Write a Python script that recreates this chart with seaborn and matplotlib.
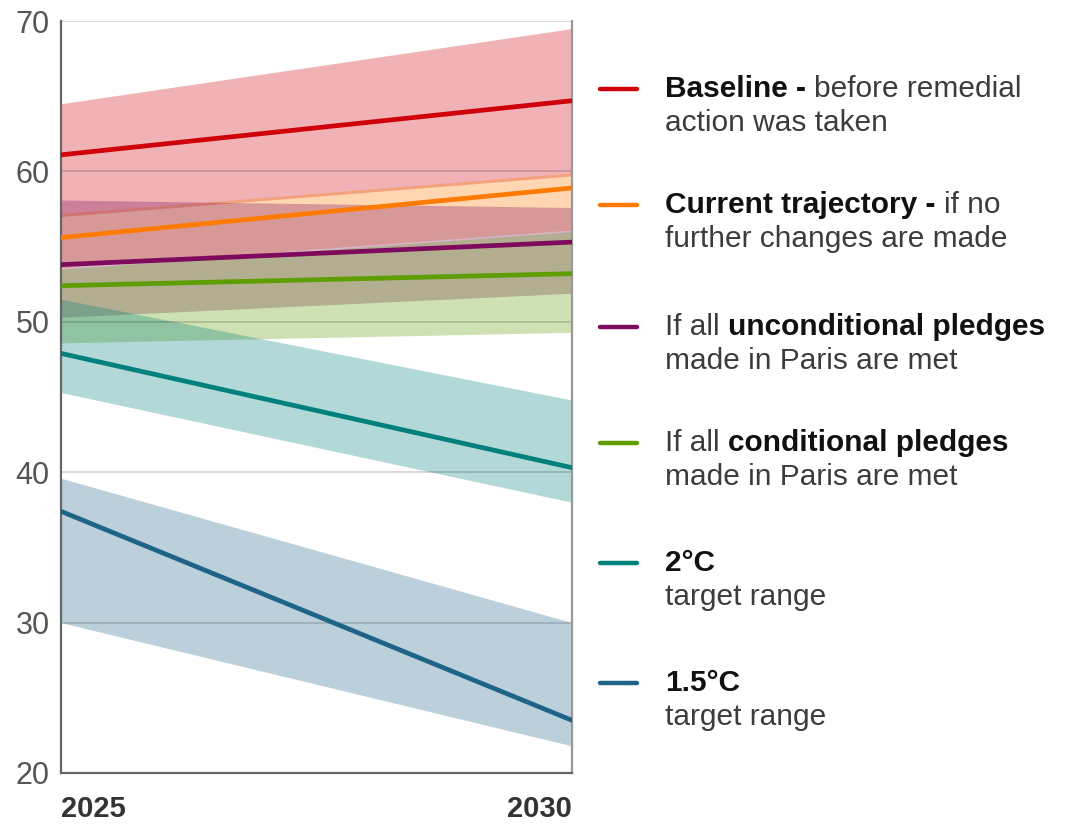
import numpy as np
import pandas as pd
import seaborn as sns
import matplotlib.pyplot as plt
from matplotlib.lines import Line2D

# Emissions pathways, start and end of the period
years = [2025, 2030]

baseline = [61.1, 64.7]
baseline_lo = [57.0, 59.7]
baseline_hi = [64.5, 69.5]

current = [55.6, 58.9]
current_lo = [53.6, 56.1]
current_hi = [57.2, 59.9]

uncond = [53.8, 55.3]
uncond_lo = [50.3, 51.9]
uncond_hi = [58.1, 57.6]

cond = [52.4, 53.2]
cond_lo = [48.6, 49.3]
cond_hi = [53.5, 56.0]

two_deg = [47.9, 40.3]
two_deg_lo = [45.3, 38.0]
two_deg_hi = [51.5, 44.8]

one_five = [37.4, 23.5]
one_five_lo = [30.0, 21.8]
one_five_hi = [39.6, 30.0]

series_names = ['Baseline', 'Current trajectory', 'Unconditional pledges',
                'Conditional pledges', '2°C', '1.5°C']
colors = ['#d0000a', '#ff7a00', '#7d0a5c', '#5e9e00', '#00807c', '#1f6488']

mids = [baseline, current, uncond, cond, two_deg, one_five]
lows = [baseline_lo, current_lo, uncond_lo, cond_lo, two_deg_lo, one_five_lo]
highs = [baseline_hi, current_hi, uncond_hi, cond_hi, two_deg_hi, one_five_hi]

# legend text: list of lines, each line a list of (text, bold)
legend_text = [
    [[('Baseline - ', True), ('before remedial', False)], [('action was taken', False)]],
    [[('Current trajectory - ', True), ('if no', False)], [('further changes are made', False)]],
    [[('If all ', False), ('unconditional pledges', True)], [('made in Paris are met', False)]],
    [[('If all ', False), ('conditional pledges', True)], [('made in Paris are met', False)]],
    [[('2°C', True)], [('target range', False)]],
    [[('1.5°C', True)], [('target range', False)]],
]

df = pd.DataFrame({
    'year': np.tile(years, len(series_names)),
    'value': np.concatenate(mids),
    'series': np.repeat(series_names, len(years)),
})

sns.set_theme(style='white')
plt.rcParams['font.family'] = ['Liberation Sans', 'DejaVu Sans']

fig = plt.figure(figsize=(10.75, 8.24), dpi=100)
ax = fig.add_axes([0.0567, 0.0619, 0.4755, 0.9126])

# uncertainty ranges
for lo, hi, c in zip(lows, highs, colors):
    ax.fill_between(years, lo, hi, color=c, alpha=0.3, linewidth=0, zorder=1)

# gridlines drawn over the bands
for yv in [30, 40, 50, 60]:
    ax.axhline(yv, color='black', alpha=0.18, linewidth=1.2, zorder=2)
ax.axhline(70, color='#d0d0d0', linewidth=1.2, zorder=2)

sns.lineplot(data=df, x='year', y='value', hue='series', palette=colors,
             hue_order=series_names, linewidth=3.4, legend=False, ax=ax, zorder=3)

ax.set_xlim(2025, 2030)
ax.set_ylim(20, 70)
ax.set_xlabel('')
ax.set_ylabel('')

ax.set_yticks([20, 30, 40, 50, 60, 70])
ax.tick_params(axis='y', length=0, pad=8, labelsize=22, labelcolor='#555555')
ax.set_xticks([2025, 2030])
ax.set_xticklabels(['2025', '2030'], fontweight='bold', fontsize=21, color='#333333')
ax.tick_params(axis='x', direction='out', length=15, width=1.6, color='#666666', pad=1)
xl = ax.get_xticklabels()
xl[0].set_horizontalalignment('left')
xl[1].set_horizontalalignment('right')

ax.spines['top'].set_visible(False)
ax.spines['left'].set_color('#666666')
ax.spines['left'].set_linewidth(1.6)
ax.spines['bottom'].set_color('#666666')
ax.spines['bottom'].set_linewidth(1.6)
ax.spines['right'].set_color('#999999')
ax.spines['right'].set_linewidth(1.6)

# custom legend on the right
W, H = 1075, 824
first_line_y = [89, 205, 327, 443, 563, 683]
line_gap = 34
fs = 21.5
for entry, c, y0 in zip(legend_text, colors, first_line_y):
    fig.add_artist(Line2D([600 / W, 637 / W], [1 - y0 / H, 1 - y0 / H],
                          color=c, linewidth=3.2, transform=fig.transFigure))
    for li, pieces in enumerate(entry):
        yy = 1 - (y0 + li * line_gap) / H
        prev = None
        for txt, bold in pieces:
            kw = dict(fontsize=fs, fontweight='bold' if bold else 'normal',
                      color='#111111' if bold else '#3c3c3c', va='center', ha='left')
            if prev is None:
                prev = fig.text(665 / W, yy, txt, **kw)
            else:
                prev = ax.annotate(txt, xy=(1, 0.5), xycoords=prev, **kw)

fig.savefig('out.png', dpi=100)
